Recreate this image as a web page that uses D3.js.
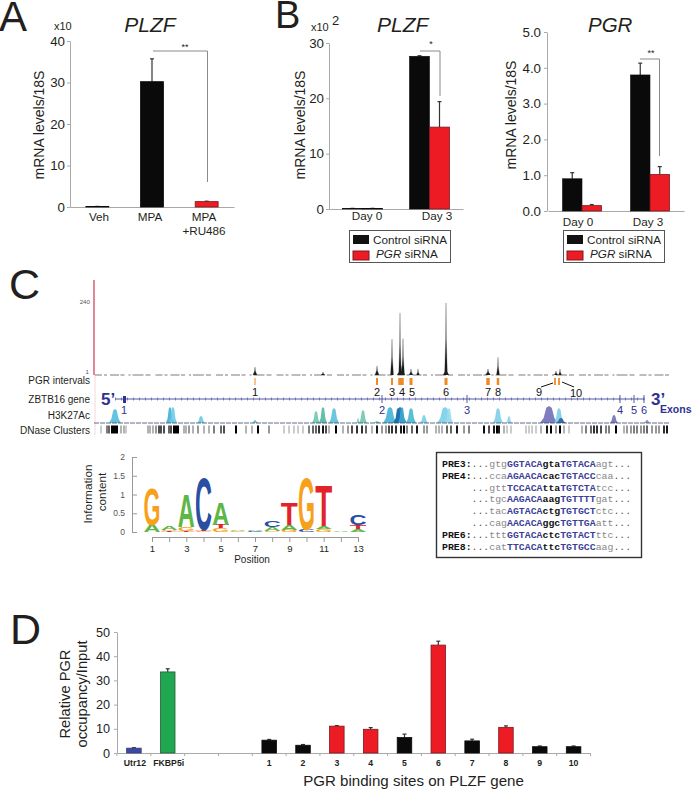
<!DOCTYPE html>
<html><head><meta charset="utf-8">
<script src="https://cdn.jsdelivr.net/npm/d3@7"></script>
<style>html,body{margin:0;padding:0;background:#fff}svg{display:block}text{font-family:"Liberation Sans",Arial,sans-serif;fill:#231f20}</style>
</head><body><svg id="c" width="693" height="790"></svg>
<script>
// ---- Panel A
const aCategories = ["Veh","MPA","MPA\n+RU486"];
const aValues = [0.1,30.2,1.3];
const aErrors = [0.05,5.5,0.1];
const aTicks = [0,10,20,30,40];
// ---- Panel B PLZF
const dayLabels = ["Day 0","Day 3"];
const b1Control = [0.1,27.6];
const b1ControlErr = [0.02,0.1];
const b1Sirna = [0.1,14.8];
const b1SirnaErr = [0.02,4.6];
const b1Ticks = [0,10,20,30];
// ---- Panel B PGR
const b2Control = [0.9,3.8];
const b2ControlErr = [0.17,0.33];
const b2Sirna = [0.15,1.02];
const b2SirnaErr = [0.03,0.22];
const b2Ticks = [0,1,2,3,4,5];
// ---- Panel C tracks (positions in relative genomic units)
const signalPeaks = [[161,26,2],[283,30,2],[298,118,1.5],[307,30,4],[306,204,1.3],[309,120,1.5],[317,20,2],[324,20,1.5],[229,10,2],[352,25,3],[352,237,1.4],[394,20,2.5],[404,58,1.5],[462,13,2],[466,20,1.5]];
const intervalSites = [["1",161,1],["2",283,2],["3",298,2],["4",307,5.5],["5",317,3],["6",352,3],["7",394,3.5],["8",404,2.5],["9",461,1.8],["10",465,1.8]];
const siteLabelPos = [161,283,298,308,319,352,394,404,445,482];
const exons = [["1",30],["2",288],["3",373],["4",526],["5",540],["6",550]];
const geneRange = [21,551];
const h3Peaks = [[21,14,6,"#55bcdc"],[76,16,4,"#3fb0d6"],[79,16,4,"#6fcbe6"],[107,7,4,"#6cc8df"],[161,3,3,"#6fb8c8"],[222,12,4,"#6fc7b0"],[229,16,4,"#52b8a0"],[240,15,5,"#5cc0dc"],[264,5,1.5,"#6fc7b0"],[269,13,4,"#6fc7b0"],[283,2,4,"#6fc7b0"],[296,16,7,"#45b3d6"],[304,15,4,"#1b7fb5"],[306,16,7,"#1f6aa8"],[308,16,4,"#3aa7d2"],[317,15,5,"#46b8d0"],[330,8,4,"#79cfe8"],[351,16,8,"#79cfe8"],[355,15,4,"#9adcf0"],[404,15,5,"#7ccfe8"],[415,7,3,"#8ad5ec"],[455,17,9,"#6f6fb8"],[465,15,5,"#7bcde8"],[467,5,5,"#2c62a6"],[520,8,4,"#6f6fb8"],[553,3,3,"#8a8ac4"]];
const dnasePos = [6,12,14,26,29,31,53,55,58,61,64,66,69,74,76,89,91,94,98,103,109,114,119,126,129,141,151,157,163,174,189,194,199,203,208,214,218,221,224,228,231,234,241,248,253,257,262,267,271,277,282,287,291,294,297,301,306,309,312,317,322,329,332,341,344,347,352,356,362,369,374,389,394,399,402,404,409,412,416,431,434,437,441,446,452,456,461,465,469,474,487,491,496,499,502,506,511,514,521,529,532,536,539,542,546,549,552,557,561,564,569,572];
const dnaseDark = [.2,.5,.6,.3,.3,.2,.3,.3,.3,.4,.7,.7,.7,.6,.7,.3,.3,.4,.3,.4,.3,.3,.5,.6,.7,1,.3,.3,1,.4,.2,.2,.2,.2,.2,.5,.6,.6,.8,.9,.7,.3,1,.3,.4,.7,.8,.8,.6,.3,.9,.4,.4,.7,.8,.8,.9,1,.5,.6,.9,.4,.4,.3,.3,.3,.6,.6,.9,.4,.5,.95,.7,.9,1,.9,.3,.2,.2,.2,.2,.2,.2,.3,.9,1,.4,1,.3,.2,.3,.5,.6,.8,.8,.7,.5,.5,1,.3,.4,.4,.5,.5,.4,.5,.6,.4,.4,.4,.8,.9];
const dnaseBlocks = [[17,7],[79,6]];
// ---- Panel C logo
const logoStacks = [
 [["A",.2],["G",1.0]],
 [["T",.03],["G",.03],["A",.1]],
 [["T",.04],["G",.1],["A",.9]],
 [["G",.03],["T",.03],["C",1.43]],
 [["G",.1],["T",.1],["A",.62]],
 [["G",.03],["A",.03]],
 [["C",.03],["A",.03]],
 [["G",.04],["A",.1],["C",.16]],
 [["G",.05],["A",.14],["T",.6]],
 [["C",.06],["G",1.43]],
 [["G",.07],["A",.08],["T",1.13]],
 [["A",.02],["T",.01]],
 [["A",.08],["T",.1],["C",.3]]
];
const logoColors = {A:"#5cb648",C:"#2a4fa2",G:"#f7a11a",T:"#e2232a"};
const logoWidth = {A:.722,C:.722,G:.778,T:.611};
const logoYTicks = [0,.5,1,1.5,2];
// ---- Panel C sequences
const seqLines = [
 ["PRE3:","gtg","GGTACA","gta","TGTACA","agt"],
 ["PRE4:","cca","AGAACA","cac","TGTACC","caa"],
 ["     ","gtt","TCCACA","tta","TGTCTA","tcc"],
 ["     ","tgc","AAGACA","aag","TGTTTT","gat"],
 ["     ","tac","AGTACA","ctg","TGTGCT","ctc"],
 ["     ","cag","AACACA","ggc","TGTTGA","att"],
 ["PRE6:","ttt","GGTACA","ctc","TGTACT","ttc"],
 ["PRE8:","cat","TTCACA","ttc","TGTGCC","aag"]
];
// ---- Panel D
const dCategories = ["Utr12","FKBP5i","","","1","2","3","4","5","6","7","8","9","10"];
const dValues = [2,33.5,null,null,5.3,3.2,11.1,9.8,6.4,44.6,5.0,10.6,2.6,2.6];
const dErrors = [.2,1.3,null,null,.3,.3,.2,.7,1.4,1.6,.7,.6,.3,.3];
const dColors = ["#3c4a9e","#1fa84f",null,null,"#0a0a0a","#0a0a0a","#ed1c24","#ed1c24","#0a0a0a","#ed1c24","#0a0a0a","#ed1c24","#0a0a0a","#0a0a0a"];
const dTicks = [0,10,20,30,40,50];

const RED="#ed1c24", DARKRED="#7a1a1e", BLK="#0a0a0a", AX="#a9a9a9", INK="#231f20", NAVY="#2e3192";
const svg = d3.select("#c");

function txt(g,x,y,s,o={}){
  const t=g.append("text").attr("x",x).attr("y",y).text(s)
    .attr("font-size",o.size||12).attr("text-anchor",o.anchor||"start");
  if(o.weight)t.attr("font-weight",o.weight);
  if(o.italic)t.attr("font-style","italic");
  if(o.fill)t.style("fill",o.fill);
  if(o.rot)t.attr("transform",`rotate(-90 ${x} ${y})`);
  if(o.family)t.style("font-family",o.family);
  return t;
}
function styleAxis(g,size,color){
  g.selectAll("path,line").attr("stroke",AX).attr("stroke-width",1);
  g.selectAll("text").attr("font-size",size).style("fill",color||"#231f20").style("font-family",'"Liberation Sans"');
}
function yAxis(x,y,ticks,fmt,size,pad){
  const g=svg.append("g").attr("transform",`translate(${x},0)`)
   .call(d3.axisLeft(y).tickValues(ticks).tickFormat(fmt).tickSizeInner(3).tickSizeOuter(0).tickPadding(pad||2));
  styleAxis(g,size||13);
}
function errBar(g,cx,y,v,e,cap,color){
  g.append("line").attr("x1",cx).attr("x2",cx).attr("y1",y(v)).attr("y2",y(v+e)).attr("stroke",color||"#333").attr("stroke-width",1.2);
  g.append("line").attr("x1",cx-cap).attr("x2",cx+cap).attr("y1",y(v+e)).attr("y2",y(v+e)).attr("stroke",color||"#333").attr("stroke-width",1.2);
}
function bracket(x1,x2,yTop,yEnd,stars,sx,sy){
  svg.append("path").attr("d",`M${x1},${yTop}H${x2}V${yEnd}`).attr("fill","none").attr("stroke","#8a8a8a").attr("stroke-width",1);
  txt(svg,sx,sy,stars,{size:9,anchor:"middle"});
}
function legend(x,y){
  const g=svg.append("g").attr("transform",`translate(${x},${y})`);
  g.append("rect").attr("x",.5).attr("y",.5).attr("width",101).attr("height",32).attr("fill","#fff").attr("stroke","#555");
  g.append("rect").attr("x",4).attr("y",5).attr("width",16).attr("height",9).attr("fill","#111");
  g.append("rect").attr("x",4).attr("y",21).attr("width",16).attr("height",9).attr("fill",RED).attr("stroke",DARKRED);
  txt(g,24,14,"Control siRNA",{size:11.7});
  const t=txt(g,27,28,"",{size:11.7});
  t.append("tspan").attr("font-style","italic").text("PGR");
  t.append("tspan").text(" siRNA");
}
// panel letters
[["A",-1,31,42],["B",275,28,38],["C",9,299,43],["D",10,644,43]].forEach(d=>txt(svg,d[1],d[2],d[0],{size:d[3]}));

// ===== A
{
 const y=d3.scaleLinear().domain([0,40]).range([207,41]);
 const x=d3.scaleBand().domain(aCategories).range([70,234]).paddingInner(.58).paddingOuter(.29);
 yAxis(70,y,aTicks,d3.format("d"),13.3,2);
 const ax=svg.append("g").attr("transform","translate(0,207)").call(d3.axisBottom(x).tickValues([]).tickSizeOuter(0));
 styleAxis(ax,12);
 const g=svg.append("g");
 aCategories.forEach((c,i)=>{
   errBar(g,x(c)+x.bandwidth()/2,y,aValues[i],aErrors[i],2);
   g.append("rect").attr("x",x(c)).attr("width",x.bandwidth()).attr("y",y(aValues[i])).attr("height",y(0)-y(aValues[i]))
    .attr("fill",i==2?RED:BLK).attr("stroke",i==2?DARKRED:BLK).attr("stroke-width",.8);
 });
 const lx=[99,150,204];
 aCategories.forEach((c,i)=>c.split("\n").forEach((s,j)=>txt(svg,lx[i],221+j*13.5,s,{size:11.7,anchor:"middle"})));
 txt(svg,150,32,"PLZF",{size:21,italic:true,anchor:"middle"});
 txt(svg,54,30,"x10",{size:11});
 txt(svg,44,125,"mRNA levels/18S",{size:14,rot:true,anchor:"middle"});
 bracket(153,207.5,51,182,"**",185,50);
}
// ===== B grouped
function grouped(x0,x1,y,ctrl,ctrlE,sir,sirE,bw,lblX,lblY){
 const xb=d3.scaleBand().domain(dayLabels).range([x0,x1]);
 const ax=svg.append("g").attr("transform",`translate(0,${y(0)})`).call(d3.axisBottom(xb).tickValues([]).tickSizeOuter(0));
 styleAxis(ax,12);
 const g=svg.append("g");
 dayLabels.forEach((d,i)=>{
  const c=xb(d)+xb.bandwidth()/2;
  errBar(g,c-bw/2,y,ctrl[i],ctrlE[i],2);
  errBar(g,c+bw/2,y,sir[i],sirE[i],2);
  g.append("rect").attr("x",c-bw).attr("width",bw).attr("y",y(ctrl[i])).attr("height",y(0)-y(ctrl[i])).attr("fill",BLK).attr("stroke",BLK).attr("stroke-width",.6);
  g.append("rect").attr("x",c).attr("width",bw).attr("y",y(sir[i])).attr("height",y(0)-y(sir[i])).attr("fill",i==0&&sir[i]<.2&&bw>19.5?BLK:RED).attr("stroke",i==0&&sir[i]<.2&&bw>19.5?BLK:DARKRED).attr("stroke-width",.8);
  txt(svg,lblX[i],lblY,d,{size:11.7,anchor:"middle"});
 });
}
{
 const y=d3.scaleLinear().domain([0,30]).range([209,43]);
 yAxis(329,y,b1Ticks,d3.format("d"),13.3,2);
 grouped(329,463,y,b1Control,b1ControlErr,b1Sirna,b1SirnaErr,20,[367,437],220);
 txt(svg,377,32,"PLZF",{size:21,italic:true});
 txt(svg,311,31,"x10",{size:11});
 txt(svg,332,25,"2",{size:13});
 txt(svg,305,125,"mRNA levels/18S",{size:14,rot:true,anchor:"middle"});
 bracket(420,440,51,96,"*",431,47);
 legend(349,230);
}
{
 const y=d3.scaleLinear().domain([0,5]).range([211,32]);
 yAxis(547,y,b2Ticks,d3.format(".1f"),13.3,3);
 grouped(548,684,y,b2Control,b2ControlErr,b2Sirna,b2SirnaErr,19.5,[578,648],226);
 txt(svg,588,32,"PGR",{size:20.5,italic:true});
 txt(svg,516,115,"mRNA levels/18S",{size:14,rot:true,anchor:"middle"});
 bracket(640,659.5,59,156,"**",651,56);
 legend(563,230);
}
// ===== C tracks
{
 const xT=d3.scaleLinear().domain([0,575]).range([94,669]);
 const yS=d3.scaleLinear().domain([0,240]).range([375,302]);
 svg.append("line").attr("x1",95).attr("x2",95).attr("y1",375).attr("y2",435).attr("stroke","#f6d5dc");
 svg.append("line").attr("x1",94).attr("x2",94).attr("y1",280).attr("y2",375).attr("stroke","#d9506a").attr("stroke-width",1.4);
 txt(svg,90,304,"240",{size:6.2,anchor:"end",fill:"#555"});
 txt(svg,89,374,"1",{size:6.2,anchor:"end",fill:"#555"});
 svg.append("line").attr("x1",xT(1)).attr("x2",xT(575)).attr("y1",375).attr("y2",375).attr("stroke","#444").attr("stroke-width",.7).attr("stroke-dasharray","7 2 3 3 9 1.5 4 4 2 2 11 2 5 5");
 const line=d3.line().x(d=>xT(d[0])).y(d=>yS(d[1]));
 signalPeaks.forEach(p=>svg.append("path").attr("d",line([[p[0]-p[2],0],[p[0]-p[2]*.2,p[1]*.5],[p[0],p[1]],[p[0]+p[2]*.2,p[1]*.5],[p[0]+p[2],0]])).attr("fill","#1a1a1a").attr("stroke","#333").attr("stroke-width",.25));
 // intervals
 intervalSites.forEach(s=>svg.append("rect").attr("x",xT(s[1])-s[2]/2).attr("width",s[2]).attr("y",378).attr("height",7).attr("fill","#f08a24"));
 intervalSites.forEach((s,i)=>txt(svg,xT(siteLabelPos[i])+(i==4?-1:0),s[0]=="10"?397:396,s[0],{size:11,anchor:"middle",fill:"#111"}));
 svg.append("path").attr("d",`M${xT(447)},387L${xT(459)},383M${xT(468)},382L${xT(480)},387`).attr("stroke","#111").attr("fill","none");
 // track labels
 [["PGR intervals",384],["ZBTB16 gene",403],["H3K27Ac",419],["DNase Clusters",434]].forEach(d=>txt(svg,90,d[1],d[0],{size:10,anchor:"end"}));
 // gene
 svg.append("line").attr("x1",xT(geneRange[0])).attr("x2",xT(geneRange[1])).attr("y1",399).attr("y2",399).attr("stroke","#5557a8");
 svg.append("line").attr("x1",xT(geneRange[0])).attr("x2",xT(geneRange[1])).attr("y1",399).attr("y2",399).attr("stroke","#5557a8").attr("stroke-width",3).attr("stroke-dasharray","1 5").attr("opacity",.7);
 exons.forEach((e,i)=>{
  if(i==0)svg.append("rect").attr("x",xT(e[1])-1).attr("width",3).attr("y",396).attr("height",7).attr("fill",NAVY);
  else svg.append("line").attr("x1",xT(e[1])).attr("x2",xT(e[1])).attr("y1",395).attr("y2",403).attr("stroke","#5557a8");
  txt(svg,xT(e[1]),414,e[0],{size:11,anchor:"middle",fill:NAVY});
 });
 txt(svg,101,405,"5’",{size:17,weight:"bold",fill:NAVY});
 txt(svg,651,405,"3’",{size:17,weight:"bold",fill:NAVY});
 txt(svg,660,413,"Exons",{size:10.5,weight:"bold",fill:NAVY});
 // H3K27Ac
 const yH=d3.scaleLinear().domain([0,17]).range([423,406]);
 const area=d3.area().x(d=>xT(d[0])).y0(yH(0)).y1(d=>yH(d[1]));
 h3Peaks.forEach(p=>svg.append("path").attr("d",area([[p[0]-p[2],0],[p[0]-p[2]*.6,p[1]*.3],[p[0]-p[2]*.3,p[1]*.9],[p[0],p[1]],[p[0]+p[2]*.3,p[1]*.9],[p[0]+p[2]*.6,p[1]*.3],[p[0]+p[2],0]])).attr("fill",p[3]).attr("opacity",.9));
 svg.append("line").attr("x1",xT(0)).attr("x2",xT(575)).attr("y1",423).attr("y2",423).attr("stroke","#3a4a6a").attr("stroke-width",.8).attr("stroke-dasharray","5 1");
 // DNase
 const grey=d3.scaleLinear().domain([0,1]).range(["#ffffff","#000000"]);
 dnasePos.forEach((p,i)=>svg.append("rect").attr("x",xT(p)).attr("width",2).attr("y",425.5).attr("height",8).attr("fill",grey(dnaseDark[i])));
 dnaseBlocks.forEach(b=>svg.append("rect").attr("x",xT(b[0])).attr("width",b[1]).attr("y",425.5).attr("height",8).attr("fill","#000"));
}
// ===== C logo
{
 const y=d3.scaleLinear().domain([0,2]).range([532,457]);
 const x=d3.scaleLinear().domain([1,13]).range([152,358]);
 const ya=svg.append("g").attr("transform","translate(132,0)").call(d3.axisLeft(y).tickValues(logoYTicks).tickFormat(d3.format("~g")).tickSize(-5).tickSizeOuter(0).tickPadding(7));
 styleAxis(ya,8.5); ya.selectAll("path,line").attr("stroke","#999");
 ya.selectAll("text").style("fill","#555");
 const xa=svg.append("g").attr("transform","translate(0,537)").call(d3.axisBottom(x).tickValues(d3.range(1,14)).tickFormat(d=>d%2?d:"").tickSize(5).tickSizeOuter(0).tickPadding(3));
 styleAxis(xa,9.5); xa.selectAll("path,line").attr("stroke","#999");
 txt(svg,252,563,"Position",{size:10,anchor:"middle"});
 txt(svg,92,494,"Information",{size:11.8,rot:true,anchor:"middle"});
 txt(svg,106,492,"content",{size:11.8,rot:true,anchor:"middle"});
 const g=svg.append("g");
 const FS=100, CAP=.729, W=17;
 logoStacks.forEach((st,i)=>{
  let acc=0;
  st.forEach(([l,h])=>{
   const yb=y(acc), yt=y(acc+h);
   const sy=(yb-yt)/(CAP*FS), sx=W/(logoWidth[l]*FS);
   g.append("text").text(l).attr("font-size",FS).attr("font-weight","bold").attr("text-anchor","middle")
    .attr("transform",`translate(${x(i+1)},${yb}) scale(${sx},${sy})`).style("fill",logoColors[l]);
   acc+=h;
  });
 });
}
// ===== C sequences
{
 svg.append("rect").attr("x",436.5).attr("y",452.5).attr("width",205).attr("height",105).attr("fill","#fff").attr("stroke","#333").attr("stroke-width",1.4);
 const y=d3.scalePoint().domain(d3.range(seqLines.length)).range([467,549.5]);
 seqLines.forEach((r,i)=>{
  const t=svg.append("text").attr("x",442).attr("y",y(i)).attr("font-size",9.85).attr("xml:space","preserve").style("font-family",'"Liberation Mono",monospace').style("white-space","pre");
  const sp=(s,c,w)=>t.append("tspan").text(s).style("fill",c).attr("font-weight",w);
  sp(r[0],"#111","bold"); sp("...","#555","normal"); sp(r[1],"#888","normal");
  sp(r[2],"#3c3f9a","bold"); sp(r[3],"#111","bold"); sp(r[4],"#3c3f9a","bold");
  sp(r[5],"#888","normal"); sp("...","#555","normal");
 });
}
// ===== D
{
 const y=d3.scaleLinear().domain([0,50]).range([753,632]);
 const x=d3.scaleBand().domain(d3.range(dCategories.length)).range([117,590.5]).paddingInner(.57).paddingOuter(.285);
 const step=x.step();
 yAxis(117,y,dTicks,d3.format("d"),12.7,4);
 const ax=svg.append("g").attr("transform","translate(0,753)").call(d3.axisBottom(x).tickValues([]).tickSizeOuter(0));
 styleAxis(ax,9);
 d3.range(dCategories.length+1).forEach(i=>svg.append("line").attr("x1",117+i*step).attr("x2",117+i*step).attr("y1",753).attr("y2",756).attr("stroke",AX));
 const g=svg.append("g");
 dCategories.forEach((c,i)=>{
  if(dValues[i]===null)return;
  const cx=x(i)+x.bandwidth()/2;
  errBar(g,cx,y,dValues[i],dErrors[i],2);
  const col=dColors[i];
  g.append("rect").attr("x",x(i)).attr("width",x.bandwidth()).attr("y",y(dValues[i])).attr("height",y(0)-y(dValues[i]))
   .attr("fill",col).attr("stroke",col==RED?DARKRED:(col=="#1fa84f"?"#2a5a3a":(col=="#3c4a9e"?"#333a80":col))).attr("stroke-width",.8);
  txt(svg,cx+(i<2?1:0),766,c,{size:8.7,weight:"bold",anchor:"middle"});
 });
 txt(svg,70,694,"Relative PGR",{size:14.7,rot:true,anchor:"middle"});
 txt(svg,87,694,"occupancy/Input",{size:14.7,rot:true,anchor:"middle"});
 txt(svg,413.5,786,"PGR binding sites on PLZF gene",{size:15.1,anchor:"middle"});
}
</script></body></html>
